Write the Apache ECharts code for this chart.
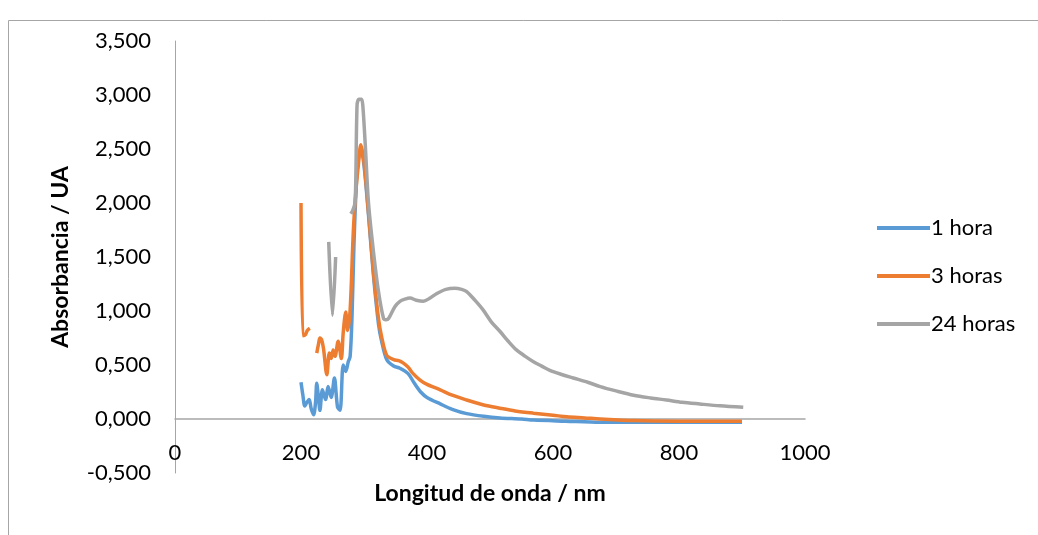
<!DOCTYPE html>
<html>
<head>
<meta charset="utf-8">
<script src="https://cdn.jsdelivr.net/npm/echarts@6/dist/echarts.min.js"></script>
<style>
html,body{margin:0;padding:0;background:#fff;}
#chart{width:1038px;height:535px;}
</style>
</head>
<body>
<div id="chart"></div>
<script>
// ---- Data (wavelength nm / absorbance UA); null = gap in the measured curve ----
const seriesNames = ["1 hora", "3 horas", "24 horas"];

const wl1h = [200,203,206,209,213,216,220,223,225,228,230,234,239,243,248,253,258,262,267,271,275,278,281,284,288,291,295,300,307,315,323,328,336,347,357,370,380,390,400,421,440,463,490,516,550,569,620,675,750,830,900];
const abs1h = [0.34,0.22,0.12,0.15,0.18,0.10,0.04,0.15,0.33,0.18,0.08,0.27,0.18,0.30,0.20,0.38,0.11,0.08,0.50,0.44,0.53,0.58,0.95,1.60,2.20,2.40,2.50,2.35,1.90,1.33,0.88,0.72,0.55,0.49,0.47,0.42,0.33,0.25,0.20,0.14,0.09,0.05,0.025,0.01,0.0,-0.01,-0.02,-0.03,-0.03,-0.03,-0.03];

const wl3h = [200,203,207,210,214,219,225,228,230,233,236,241,245,248,251,254,259,264,267,271,274,278,283,287,291,295,300,307,315,323,328,336,347,355,362,370,378,389,400,421,440,463,490,516,540,569,600,622,650,675,728,800,900];
const abs3h = [2.00,0.77,0.78,0.82,0.84,null,0.61,0.70,0.75,0.73,0.64,0.41,0.61,0.56,0.64,0.58,0.72,0.56,0.80,0.99,0.82,1.01,1.73,2.10,2.35,2.54,2.38,1.92,1.36,0.93,0.76,0.59,0.55,0.54,0.52,0.48,0.42,0.36,0.32,0.27,0.22,0.176,0.13,0.10,0.075,0.054,0.035,0.02,0.01,0.0,-0.015,-0.02,-0.02];

const wl24h = [244,250,255,265,279,282,286,289,292,296,298,302,307,315,323,331,335,339,349,357,365,373,383,394,405,415,430,444,455,463,476,489,502,516,529,542,556,569,582,595,615,632,655,675,700,728,755,780,805,833,865,902];
const abs24h = [1.64,0.96,1.50,null,1.90,1.93,2.01,2.91,2.96,2.96,2.91,2.54,2.01,1.55,1.18,0.93,0.92,0.93,1.04,1.09,1.11,1.12,1.10,1.09,1.12,1.16,1.20,1.21,1.20,1.18,1.10,1.01,0.90,0.81,0.72,0.64,0.58,0.53,0.49,0.45,0.41,0.38,0.34,0.30,0.26,0.22,0.195,0.176,0.155,0.139,0.122,0.108];

const xTicks = [0,200,400,600,800,1000];
const colors = ["#5B9BD5", "#ED7D31", "#A5A5A5"];

function pairs(xs, ys){ return xs.map((x,i)=>[x, ys[i]]); }

const FONT = "Lato, 'Open Sans', sans-serif";
const chart = echarts.init(document.getElementById('chart'), null, {renderer:'canvas'});
const wls = [wl1h, wl3h, wl24h];
const abss = [abs1h, abs3h, abs24h];

chart.setOption({
  animation:false,
  backgroundColor:'#fff',
  textStyle:{fontFamily:FONT},
  graphic:[{type:'rect', shape:{x:8.5,y:20.5,width:1200,height:700}, style:{fill:'none', stroke:'#a6a6a6', lineWidth:1}, silent:true}],
  grid:{left:175, right:233, top:41, bottom:62, containLabel:false, outerBoundsMode:'none'},
  legend:{
    orient:'vertical', left:872, top:210, itemWidth:53, itemHeight:4, itemGap:22,
    icon:'rect',
    textStyle:{fontFamily:FONT, fontSize:22, color:'#000', padding:[0,0,0,-4], lineHeight:26},
    data:seriesNames
  },
  xAxis:{
    type:'value', min:xTicks[0], max:xTicks[xTicks.length-1], interval:200,
    offset:-54,
    axisLine:{onZero:false, lineStyle:{color:'#a6a6a6', width:1.5}},
    axisTick:{show:false}, splitLine:{show:false},
    axisLabel:{fontSize:22, color:'#000', margin:23, fontFamily:FONT, formatter:v=>String(v)},
    name:'Longitud de onda / nm', nameLocation:'middle', nameGap:63,
    nameTextStyle:{fontSize:23, fontWeight:'bold', color:'#000', fontFamily:FONT}
  },
  yAxis:{
    type:'value', min:-0.5, max:3.5, interval:0.5,
    axisLine:{show:true, onZero:false, lineStyle:{color:'#a6a6a6', width:1}},
    axisTick:{show:false}, splitLine:{show:false},
    axisLabel:{fontSize:22, color:'#000', margin:24, fontFamily:FONT,
      formatter:v=>v.toFixed(3).replace('.',',')},
    name:'Absorbancia / UA', nameLocation:'middle', nameGap:103,
    nameTextStyle:{fontSize:23, fontWeight:'bold', color:'#000', fontFamily:FONT}
  },
  series: seriesNames.map((n,i)=>({
    name:n, type:'line', showSymbol:false, symbol:'none', connectNulls:false,
    smooth:0.3, data:pairs(wls[i], abss[i]),
    lineStyle:{color:colors[i], width:3.5}, itemStyle:{color:colors[i]}
  }))
});
</script>
</body>
</html>
